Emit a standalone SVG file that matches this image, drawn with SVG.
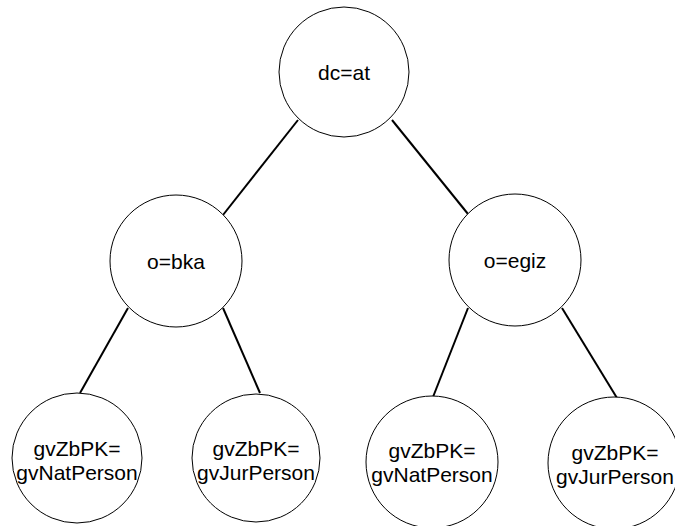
<svg xmlns="http://www.w3.org/2000/svg" width="675" height="526" viewBox="0 0 675 526">
  <style>
    .node circle { fill: #ffffff; stroke: #000000; stroke-width: 1; }
    .node text { font-family: "Liberation Sans", Arial, sans-serif; font-size: 21px; fill: #000000; text-anchor: middle; }
    .edge { stroke: #000000; stroke-width: 2; fill: none; }
  </style>
  <rect width="675" height="526" fill="#ffffff"/>

  <!-- tree edges -->
  <g id="connectors">
    <line class="edge" x1="298" y1="120" x2="223" y2="215"/>
    <line class="edge" x1="392" y1="120" x2="468" y2="214"/>
    <line class="edge" x1="128" y1="308" x2="80" y2="393"/>
    <line class="edge" x1="223" y1="308" x2="260" y2="393"/>
    <line class="edge" x1="468" y1="308" x2="433" y2="397"/>
    <line class="edge" x1="562" y1="308" x2="617" y2="398"/>
  </g>

  <g id="root" class="node">
    <circle cx="344" cy="72" r="65"/>
    <text x="344" y="80">dc=at</text>
  </g>
  <g id="bka" class="node">
    <circle cx="176" cy="261" r="66"/>
    <text x="176" y="269">o=bka</text>
  </g>
  <g id="egiz" class="node">
    <circle cx="515" cy="260" r="66"/>
    <text x="515" y="268">o=egiz</text>
  </g>
  <g id="bka-nat" class="node">
    <circle cx="77" cy="458" r="65"/>
    <text x="77" y="456">gvZbPK=</text>
    <text x="77" y="480">gvNatPerson</text>
  </g>
  <g id="bka-jur" class="node">
    <circle cx="256" cy="458" r="64"/>
    <text x="256" y="456">gvZbPK=</text>
    <text x="256" y="480">gvJurPerson</text>
  </g>
  <g id="egiz-nat" class="node">
    <circle cx="432" cy="462" r="66"/>
    <text x="432" y="458">gvZbPK=</text>
    <text x="432" y="482">gvNatPerson</text>
  </g>
  <g id="egiz-jur" class="node">
    <circle cx="614" cy="463" r="66"/>
    <text x="615" y="460">gvZbPK=</text>
    <text x="615" y="484">gvJurPerson</text>
  </g>
</svg>
